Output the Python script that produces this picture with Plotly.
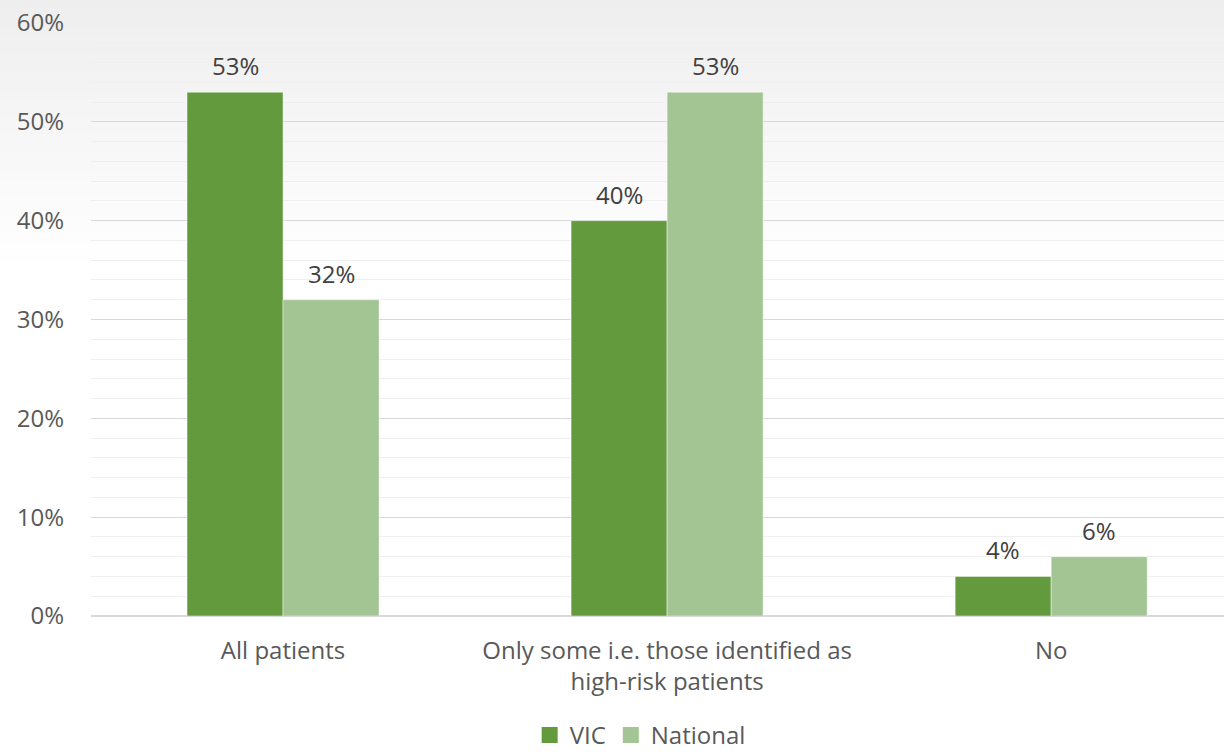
import plotly.graph_objects as go

categories = ["All patients", "Only some i.e. those identified as<br>high-risk patients", "No"]
vic = [53, 40, 4]
national = [32, 53, 6]
series_names = ["VIC", "National"]
ytick_vals = [0, 10, 20, 30, 40, 50, 60]
ytick_text = ["0%", "10%", "20%", "30%", "40%", "50%", "60%"]

FONT = "Open Sans"
FS = 24
VIC_COLOR = "#639a3e"
NAT_COLOR = "#a3c593"
colors = [VIC_COLOR, NAT_COLOR]

fig = go.Figure()
for name, vals, col in zip(series_names, (vic, national), colors):
    fig.add_trace(go.Bar(
        name=name, x=categories, y=vals, showlegend=False,
        marker=dict(color=col, line=dict(color="rgba(255,255,255,0.45)", width=1)),
    ))
# legend proxies with larger square symbols
for name, col in zip(series_names, colors):
    fig.add_trace(go.Scatter(
        name=name, x=[None], y=[None], mode="markers",
        marker=dict(symbol="square", size=16, color=col), showlegend=True,
    ))

# value labels
for vals, shift in ((vic, -48), (national, 48)):
    for c, v in zip(categories, vals):
        fig.add_annotation(x=c, y=v, text=f"{v}%", showarrow=False,
                           xshift=shift, yshift=8, yanchor="bottom",
                           font=dict(family=FONT, size=FS, color="#404040"))

# background gradient (top gray fading to white)
plot_top, plot_bottom = 23, 616
ph = plot_bottom - plot_top
n = 30
grad_h = 270
for i in range(n):
    y0px = i * grad_h / n
    y1px = (i + 1) * grad_h / n
    g = int(round(238 + (255 - 238) * (i + 0.5) / n))
    fig.add_shape(type="rect", xref="paper", yref="paper",
                  x0=-0.2, x1=1.2,
                  y0=(plot_bottom - y1px) / ph, y1=(plot_bottom - y0px) / ph + 0.001,
                  fillcolor=f"rgb({g},{g},{g})", line=dict(width=0), layer="below")

fig.update_layout(
    width=1224, height=752,
    margin=dict(l=91, r=0, t=23, b=136),
    paper_bgcolor="white", plot_bgcolor="rgba(0,0,0,0)",
    barmode="group", bargap=0.5, bargroupgap=0,
    font=dict(family=FONT, size=FS, color="#595959"),
    showlegend=True,
    legend=dict(orientation="h", xref="container", yref="container",
                x=0.523, xanchor="center", y=0.022, yanchor="middle",
                font=dict(family=FONT, size=FS, color="#595959"),
                itemsizing="trace", itemwidth=30, tracegroupgap=0,
                bgcolor="rgba(0,0,0,0)"),
)
fig.update_xaxes(range=[-0.5, 2.45], showgrid=False, zeroline=False,
                 showline=False, ticks="", ticklabelstandoff=18,
                 tickfont=dict(family=FONT, size=FS, color="#595959"))
fig.update_yaxes(range=[0, 60], tickvals=ytick_vals, ticktext=ytick_text,
                 showgrid=True, gridcolor="#d9d9d9", gridwidth=1,
                 minor=dict(dtick=2, showgrid=True, gridcolor="#efefef", gridwidth=1),
                 zeroline=True, zerolinecolor="#d9d9d9", zerolinewidth=2,
                 showline=False, ticks="", ticklabelstandoff=26,
                 tickfont=dict(family=FONT, size=FS, color="#595959"))

fig.write_html("out.html")
